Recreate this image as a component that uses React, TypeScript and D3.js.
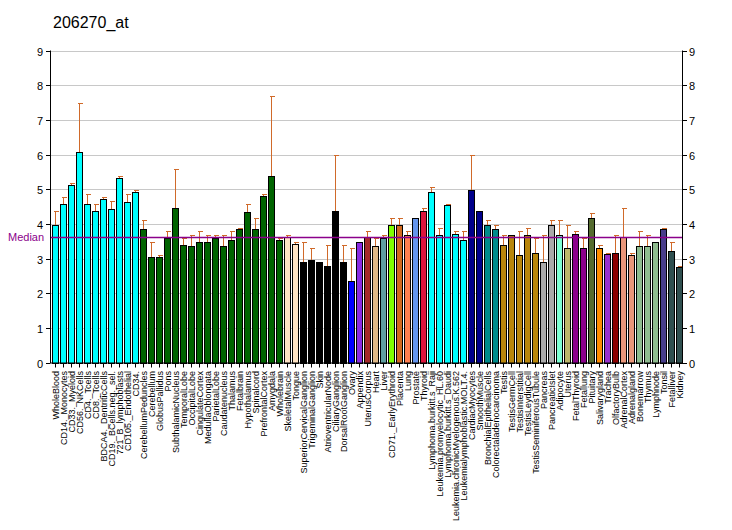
import React from "react";
import * as d3 from "d3";

const categories = [
  "WholeBlood","CD14._Monocytes","CD33._Myeloid","CD56._NKCells","CD4._Tcells","CD8._Tcells",
  "BDCA4._DentriticCells","CD19._BCells.neg._sel.","721_B_lymphoblasts","CD105._Endothelial","CD34.",
  "CerebellumPeduncles","Cerebellum","GlobusPallidus","Pons","SubthalamicNucleus","TemporalLobe",
  "OccipitalLobe","CingulateCortex","MedullaOblongata","ParietalLobe","Caudatenucleus","Thalamus",
  "Fetalbrain","Hypothalamus","Spinalcord","PrefrontalCortex","Amygdala","Wholebrain",
  "SkeletalMuscle","Tongue","SuperiorCervicalGanglion","TrigeminalGanglion","Skin",
  "AtrioventricularNode","CiliaryGanglion","DorsalRootGanglion","Ovary","Appendix","UterusCorpus",
  "Heart","Liver","CD71._EarlyErythroid","Placenta","Lung","Prostate","Thyroid",
  "Lymphoma.burkitt.s_Raji","Leukemia.promyelocytic_HL.60","Lymphoma.burkitt.s_Daudi",
  "Leukemia.chronicMyelogenous.K.562","Leukemialymphoblastic.MOLT.4.","CardiacMyocytes",
  "SmoothMuscle","BronchialEpithelialCells","Colorectaladenocarcinoma","Testis","TestisGermCell",
  "TestisInterstitial","TestisLeydigCell","TestisSeminiferousTubule","Pancreas","PancreaticIslet",
  "Adipocyte","Uterus","FetalThyroid","Fetallung","Pituitary","Salivarygland","Trachea",
  "OlfactoryBulb","AdrenalCortex","Adrenalgland","Bonemarrow","Thymus","Lymphnode","Tonsil",
  "Fetalliver","Kidney"
];

const values = [
  3.98,4.58,5.13,6.08,4.58,4.38,4.73,4.44,5.33,4.64,4.93,
  3.84,3.03,3.03,3.58,4.47,3.38,3.35,3.49,3.49,3.58,3.35,3.52,3.84,4.33,3.84,4.79,5.39,3.52,
  3.63,3.43,2.89,2.97,2.89,2.77,4.38,2.89,2.34,3.49,3.63,3.35,3.58,3.98,3.98,3.69,4.18,4.38,
  4.93,3.69,4.53,3.72,3.52,4.99,4.38,3.98,3.84,3.38,3.69,3.09,3.69,3.17,2.89,3.98,3.69,3.29,
  3.72,3.29,4.18,3.29,3.14,3.17,3.63,3.09,3.35,3.35,3.49,3.84,3.23,2.75
];

const errTops = [
  4.38,4.78,5.19,7.49,4.87,4.58,4.78,4.67,5.39,4.87,4.99,
  4.1,3.49,3.09,3.78,5.59,3.58,3.69,3.78,3.69,3.69,3.69,3.78,3.89,4.58,4.18,4.87,7.7,3.58,
  3.69,3.49,3.49,3.29,2.89,3.38,6.0,3.38,3.29,3.49,3.78,3.58,3.69,4.18,4.18,3.78,4.18,4.47,
  5.07,3.89,4.58,3.78,3.78,6.0,4.38,4.1,3.98,3.69,3.69,3.78,3.89,3.58,3.69,4.1,4.1,3.98,
  3.78,3.58,4.3,3.38,3.17,3.69,4.47,3.17,3.78,3.69,3.49,3.89,3.49,2.77
];

const colorGroups: [string, number][] = [
  ["#00FFFF", 11], ["#006400", 18], ["#FFE4C4", 2], ["#000000", 6], ["#0000FF", 1],
  ["#8A2BE2", 1], ["#A52A2A", 1], ["#DEB887", 1], ["#5F9EA0", 1], ["#7FFF00", 1],
  ["#D2691E", 1], ["#FF7F50", 1], ["#6495ED", 1], ["#DC143C", 1], ["#00FFFF", 5],
  ["#00008B", 2], ["#008B8B", 2], ["#B8860B", 5], ["#A9A9A9", 2], ["#7FFFD4", 1],
  ["#BDB76B", 1], ["#8B008B", 2], ["#556B2F", 1], ["#FF8C00", 1], ["#9932CC", 1],
  ["#8B0000", 1], ["#E9967A", 2], ["#8FBC8F", 3], ["#483D8B", 1], ["#2F4F4F", 2]
];

const yTicks = [0, 1, 2, 3, 4, 5, 6, 7, 8, 9];
const medianValue = 3.63;
const title = "206270_at";

export default function App() {
  const W = 732, H = 530;
  const left = 50.7, right = 682.7, top = 50.5, bottom = 362.5;
  const colors: string[] = [];
  colorGroups.forEach(([c, n]) => { for (let i = 0; i < n; i++) colors.push(c); });

  const x = d3.scaleBand<string>().domain(categories).range([left, right]).padding(0);
  const y = d3.scaleLinear().domain([0, 9]).range([bottom, top]);
  const bw = x.bandwidth();
  const font = "Liberation Sans, Arial, sans-serif";
  const errColor = "#D06A2A";

  return (
    <svg width={W} height={H} style={{ position: "absolute", left: 0, top: 0, background: "#fff" }}
      fontFamily={font}>
      <rect x={0} y={0} width={W} height={H} fill="#fff" />
      <text x={53} y={28} fontSize={16} fill="#000">{title}</text>
      {yTicks.filter(t => t > 0).map(t => (
        <line key={"g" + t} x1={left} x2={right} y1={Math.round(y(t)) + 0.5} y2={Math.round(y(t)) + 0.5}
          stroke="#C8C8C8" strokeWidth={1} />
      ))}
      {categories.map((c, i) => {
        const x0 = x(c)! + 1;
        const yt = y(values[i]);
        return (
          <rect key={"b" + i} x={Math.round(x0) + 0.5} y={Math.round(yt) + 0.5} width={6}
            height={Math.round(bottom) - Math.round(yt)} fill={colors[i]} stroke="#000" strokeWidth={1} />
        );
      })}
      {categories.map((c, i) => {
        if (errTops[i] <= values[i] + 0.01) return null;
        const cx = Math.round(x(c)! + 1) + 3.5;
        const y1 = Math.round(y(values[i]));
        const y2 = Math.round(y(errTops[i])) + 0.5;
        return (
          <g key={"e" + i} stroke={errColor} strokeWidth={1} shapeRendering="crispEdges">
            <line x1={cx} x2={cx} y1={y1} y2={y2} />
            <line x1={cx - 2} x2={cx + 3} y1={y2} y2={y2} />
          </g>
        );
      })}
      <line x1={left} x2={right} y1={Math.round(y(medianValue)) + 0.5} y2={Math.round(y(medianValue)) + 0.5}
        stroke="#8B008B" strokeWidth={1.5} />
      <text x={8} y={y(medianValue) + 4} fontSize={11} fill="#8B008B">Median</text>
      <line x1={50.5} x2={50.5} y1={top} y2={bottom + 0.5} stroke="#000" />
      <line x1={682.5} x2={682.5} y1={top} y2={bottom + 0.5} stroke="#000" />
      <line x1={50.5} x2={682.5} y1={bottom + 0.5} y2={bottom + 0.5} stroke="#000" />
      {yTicks.map(t => {
        const yy = Math.round(y(t)) + 0.5;
        return (
          <g key={"t" + t}>
            <line x1={46} x2={50.5} y1={yy} y2={yy} stroke="#000" />
            <text x={43} y={yy + 4} fontSize={11} textAnchor="end" fill="#000">{t}</text>
            <line x1={682.5} x2={687} y1={yy} y2={yy} stroke="#000" />
            <text x={689} y={yy + 4} fontSize={11} textAnchor="start" fill="#000">{t}</text>
          </g>
        );
      })}
      {categories.map((c, i) => {
        const cx = Math.round(x(c)! + 1) + 3.5;
        return (
          <g key={"l" + i}>
            <line x1={cx} x2={cx} y1={bottom + 0.5} y2={bottom + 5} stroke="#000" />
            <text transform={`translate(${cx + 3.5},${371}) rotate(-90)`} fontSize={9}
              textAnchor="end" fill="#000">{c}</text>
          </g>
        );
      })}
    </svg>
  );
}
